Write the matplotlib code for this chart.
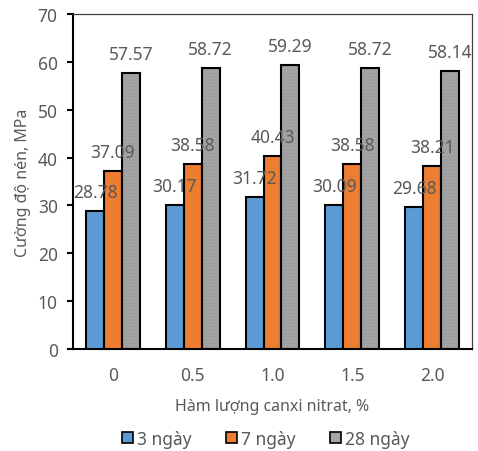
import matplotlib.pyplot as plt
import numpy as np
from matplotlib.patches import Patch

plt.rcParams['font.family'] = ['Noto Sans', 'DejaVu Sans']

# compressive strength by calcium nitrate dosage
dosages = ['0', '0.5', '1.0', '1.5', '2.0']
day3 = [28.78, 30.17, 31.72, 30.09, 29.68]
day7 = [37.09, 38.58, 40.43, 38.58, 38.21]
day28 = [57.57, 58.72, 59.29, 58.72, 58.14]
series_names = ['3 ngày', '7 ngày', '28 ngày']

colors = ['#5B9BD5', '#ED7D31', '#A5A5A5']
txt_color = '#595959'
fsize = 12.5

fig = plt.figure(figsize=(4.78, 4.52), dpi=100)
ax = fig.add_axes([73 / 478, 102 / 452, 399 / 478, 335 / 452])

x = np.arange(len(dosages))
w = 0.225
for i, (vals, c) in enumerate(zip([day3, day7, day28], colors)):
    pos = x + (i - 1) * w
    if i == 2:
        # dotted texture on the grey bars
        ax.bar(pos, vals, w, color=c, hatch='.....', edgecolor='#999999',
               linewidth=0, zorder=2)
        ax.bar(pos, vals, w, fill=False, edgecolor='black', linewidth=1.5,
               zorder=3)
    else:
        ax.bar(pos, vals, w, color=c, edgecolor='black', linewidth=1.5,
               zorder=3)
    for xp, v in zip(pos, vals):
        ax.annotate('%.2f' % v, (xp, v), xytext=(0, 19),
                    textcoords='offset pixels', ha='center', va='center',
                    fontsize=fsize, color=txt_color, zorder=4)

ax.set_xlim(-0.5, len(dosages) - 0.5)
ax.set_ylim(0, 70)
ax.set_yticks(np.arange(0, 71, 10))
ax.set_xticks(x)
ax.set_xticklabels(dosages)
ax.tick_params(axis='x', length=0, pad=12, labelsize=fsize, labelcolor=txt_color)
ax.tick_params(axis='y', length=4, width=1.5, direction='out', pad=7,
               labelsize=fsize, labelcolor=txt_color)

for s in ['left', 'bottom']:
    ax.spines[s].set_linewidth(1.5)
    ax.spines[s].set_color('black')
for s in ['top', 'right']:
    ax.spines[s].set_linewidth(0.9)
    ax.spines[s].set_color('#404040')

ax.set_xlabel('Hàm lượng canxi nitrat, %', fontsize=11.5,
              color=txt_color, labelpad=10)
ax.set_ylabel('Cường độ nén, MPa', fontsize=11.5, color=txt_color,
              labelpad=5)

handles = [Patch(facecolor=c, edgecolor='black', linewidth=1.2)
           for c in colors]
fig.legend(handles, series_names, loc='center', ncol=3,
           bbox_to_anchor=(266 / 478, 12 / 452), frameon=False,
           handlelength=0.6, handleheight=0.6, handletextpad=0.25,
           columnspacing=2.0, fontsize=12.5, labelcolor=txt_color)

fig.savefig('out.png', dpi=100)
